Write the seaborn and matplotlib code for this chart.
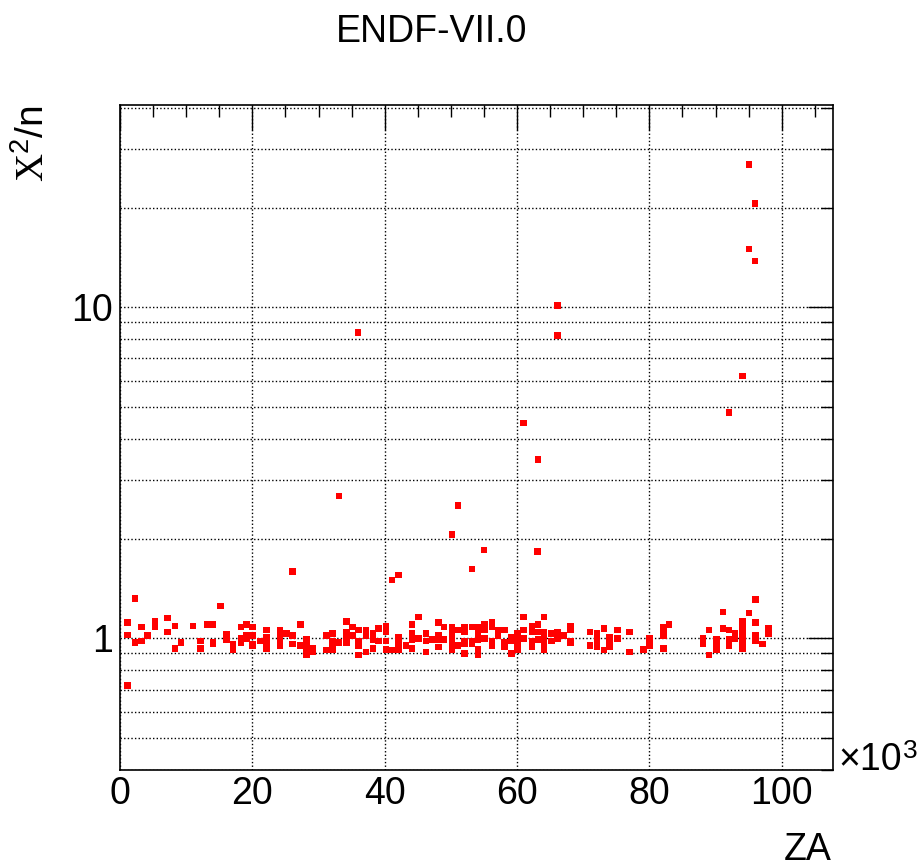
import matplotlib
matplotlib.use("Agg")
import matplotlib.pyplot as plt
import matplotlib.ticker as mticker
import seaborn as sns
import pandas as pd

# ZA in units of 10^3, chi2/n values
za_k = [
    1.16, 2.3, 15.2, 26.1, 33.1, 36.0, 41.1, 42.1, 50.2, 51.1, 53.2, 55.0,
    61.0, 63.15, 63.1, 66.1, 66.1, 92.05, 94.1, 95.07, 95.98, 95.07, 95.98,
    1.16, 1.16, 2.3, 3.27, 3.27, 4.17, 5.28, 5.28, 7.14, 7.14, 8.3, 8.3, 9.25,
    11.06, 12.2, 12.2, 13.2, 14.07, 14.07, 14.07, 16.1, 16.1, 17.1, 17.1,
    18.25, 18.25, 18.25, 19.15, 19.15, 19.15, 20.06, 20.06, 20.06, 20.06,
    21.27, 22.17, 22.17, 22.17, 22.17, 24.2, 24.2, 24.2, 24.2, 25.2, 26.1, 26.1,
    27.25, 27.25, 28.2, 28.2, 28.2, 28.2, 29.1, 29.1, 31.2, 31.2,
    32.1, 32.1, 32.1, 32.1, 33.1, 34.2, 34.2, 34.2, 34.2, 35.1, 35.1,
    36.05, 36.05, 36.05, 36.05, 37.2, 37.2, 37.2, 38.2, 38.2, 38.2, 39.1, 39.1,
    40.2, 40.2, 40.2, 40.2, 41.2, 42.1, 42.1, 42.1, 43.2,
    44.15, 44.15, 44.15, 44.15, 45.1, 45.1, 46.25, 46.25, 46.25, 47.2,
    48.1, 48.1, 48.1, 48.1, 49.0, 49.0, 50.2, 50.2, 50.2, 50.2, 50.2, 51.1, 51.1,
    52.1, 52.1, 52.1, 52.1, 52.1, 53.2, 53.2, 53.2, 54.1, 54.1, 54.1, 54.1, 54.1,
    55.05, 55.05, 55.05, 56.2, 56.2, 56.2, 56.2, 57.1, 57.1, 58.07, 58.07, 58.07,
    59.2, 59.2, 59.2, 60.1, 60.1, 60.1, 60.1, 61.0, 61.0, 61.0,
    62.25, 62.25, 62.25, 62.25, 63.15, 63.15, 63.15,
    64.05, 64.05, 64.05, 64.05, 64.05, 65.2, 65.2, 66.1, 66.1, 67.07,
    68.1, 68.1, 68.1, 68.1, 71.04, 71.04, 72.1, 72.1, 72.1, 72.1, 73.15, 73.15,
    74.0, 74.0, 74.0, 75.2, 75.2, 77.0, 77.0, 79.1, 80.0, 80.0, 80.0,
    82.1, 82.1, 82.1, 82.1, 83.0, 88.1, 88.1, 89.0, 89.0, 90.15, 90.15, 90.15,
    91.1, 91.1, 92.05, 92.05, 92.05, 92.95, 92.95,
    94.1, 94.1, 94.1, 94.1, 94.1, 94.1, 95.07, 96.0, 96.0, 96.0, 96.0, 97.1,
    98.0, 98.0,
]
chi2_n = [
    0.72, 1.32, 1.25, 1.59, 2.69, 8.4, 1.50, 1.55, 2.06, 2.52, 1.62, 1.85,
    4.47, 3.47, 1.83, 10.1, 8.2, 4.8, 6.2, 27.0, 20.6, 15.0, 13.8,
    1.116, 1.023, 0.97, 1.08, 0.98, 1.02, 1.125, 1.08, 1.15, 1.045, 1.09, 0.93, 0.97,
    1.09, 0.98, 0.93, 1.10, 1.10, 0.975, 0.96, 1.03, 0.99, 0.96, 0.92,
    1.08, 1.0, 0.97, 1.10, 1.02, 1.0, 1.08, 1.02, 0.96, 0.95,
    0.98, 1.06, 1.01, 0.97, 0.93, 1.06, 1.02, 0.97, 0.95, 1.035, 1.02, 0.96,
    1.10, 0.95, 0.99, 0.97, 0.925, 0.89, 0.93, 0.91, 1.02, 0.92,
    1.035, 0.98, 0.95, 0.92, 0.97, 1.125, 1.045, 1.01, 0.97, 1.08, 1.02,
    1.06, 0.98, 0.95, 0.89, 1.06, 1.02, 0.91, 1.035, 0.99, 0.93, 1.07, 0.98,
    1.09, 1.045, 0.98, 0.925, 0.92, 1.01, 0.97, 0.925, 0.95,
    1.10, 1.035, 0.99, 0.93, 1.16, 1.0, 1.035, 0.98, 0.91, 0.99,
    1.115, 1.02, 0.99, 0.94, 1.08, 0.99, 1.08, 1.045, 1.0, 0.97, 0.925, 1.06, 0.95,
    1.08, 1.045, 0.98, 0.96, 0.90, 1.08, 0.98, 0.96, 1.08, 1.035, 0.99, 0.925, 0.89,
    1.10, 1.06, 1.0, 1.115, 1.08, 0.98, 0.95, 1.06, 1.02, 1.06, 0.97, 0.94,
    1.01, 0.98, 0.90, 1.035, 1.0, 0.96, 0.925, 1.16, 1.06, 1.0,
    1.09, 1.045, 0.98, 0.94, 1.10, 1.045, 0.99,
    1.16, 1.045, 1.01, 0.97, 0.925, 1.035, 0.98, 1.045, 1.0, 1.02,
    1.09, 1.06, 0.98, 0.97, 1.045, 0.95, 1.035, 1.0, 0.97, 0.94, 1.07, 0.92,
    1.01, 0.975, 0.94, 1.06, 1.0, 1.045, 0.91, 0.925, 1.0, 0.97, 0.95,
    1.08, 1.05, 1.02, 0.93, 1.10, 1.0, 0.96, 1.06, 0.89, 0.99, 0.96, 0.925,
    1.20, 1.07, 1.06, 0.99, 0.95, 1.035, 1.0,
    1.125, 1.07, 1.035, 0.99, 0.96, 0.93, 1.19, 1.31, 1.115, 1.02, 0.98, 0.96,
    1.07, 1.035,
]

x_major = [0, 20, 40, 60, 80, 100]
x_labels = ["0", "20", "40", "60", "80", "100"]
y_major = [1, 10]
y_labels = ["1", "10"]

sns.set_theme(style="white")
plt.rcParams["font.family"] = ["Liberation Sans", "DejaVu Sans"]
plt.rcParams["mathtext.fontset"] = "custom"
plt.rcParams["mathtext.rm"] = "Liberation Serif"
plt.rcParams["mathtext.sf"] = "Liberation Sans"
for k in ["text.color", "axes.labelcolor", "xtick.color", "ytick.color",
          "xtick.labelcolor", "ytick.labelcolor"]:
    plt.rcParams[k] = "black"

df = pd.DataFrame({"ZA": za_k, "chi2": chi2_n})

W, H = 922, 867
fig = plt.figure(figsize=(W / 100, H / 100), dpi=100)
L, R, T, B = 120, 833, 105, 770
ax = fig.add_axes([L / W, 1 - B / H, (R - L) / W, (B - T) / H])

sns.scatterplot(data=df, x="ZA", y="chi2", ax=ax, marker="s", s=22,
                color="#ff0000", edgecolor="none", linewidth=0, zorder=3)

ax.set_yscale("log")
ax.set_xlim(0, 107.75)
ax.set_ylim(0.40, 40.8)

ax.xaxis.set_major_locator(mticker.FixedLocator(x_major))
ax.xaxis.set_major_formatter(mticker.FixedFormatter(x_labels))
ax.xaxis.set_minor_locator(mticker.MultipleLocator(5))
ax.yaxis.set_major_locator(mticker.FixedLocator(y_major))
ax.yaxis.set_major_formatter(mticker.FixedFormatter(y_labels))
ax.yaxis.set_minor_locator(mticker.LogLocator(base=10, subs=range(2, 10)))
ax.yaxis.set_minor_formatter(mticker.NullFormatter())

ax.tick_params(which="both", direction="in", top=True, right=True,
               color="black", width=1.0)
ax.tick_params(which="major", length=18)
ax.tick_params(which="minor", length=8.5)
ax.tick_params(axis="x", which="major", labelsize=27, pad=4)
ax.tick_params(axis="y", which="major", labelsize=27, pad=5)

ax.grid(False)
ax.xaxis.grid(True, which="major", color="black", linestyle=(0, (1, 1.6)), linewidth=1.0)
ax.yaxis.grid(True, which="both", color="black", linestyle=(0, (1, 1.6)), linewidth=1.0)
ax.set_axisbelow(True)

for sp in ax.spines.values():
    sp.set_color("black")
    sp.set_linewidth(1.2)

ax.set_xlabel("")
ax.set_ylabel("")

fig.text(431.5 / W, 1 - 42 / H, "ENDF-VII.0", ha="center", va="baseline", fontsize=27)
fig.text(832 / W, 1 - 860 / H, "ZA", ha="right", va="baseline", fontsize=27)
fig.text(52 / W, 1 - 105 / H, r"$\mathrm{X}^{\mathsf{2}}\mathsf{/n}$", ha="right", va="top",
         rotation=90, fontsize=28)
fig.text(838 / W, 1 - 770 / H, "\u00d710", ha="left", va="baseline", fontsize=27)
fig.text(903 / W, 1 - 758 / H, "3", ha="left", va="baseline", fontsize=19)

fig.savefig("out.png", dpi=100)
